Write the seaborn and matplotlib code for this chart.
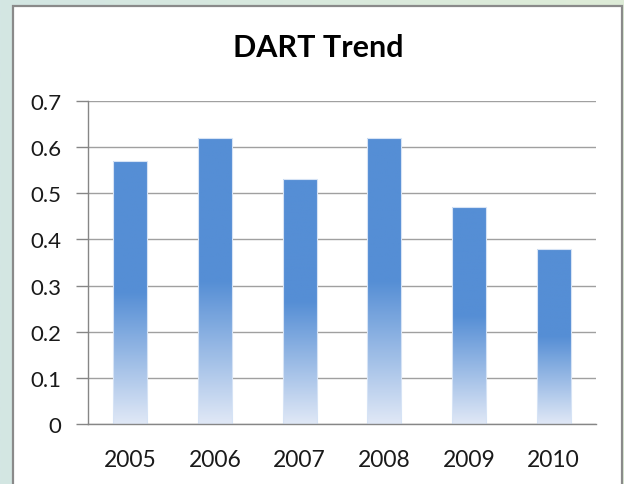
import numpy as np
import matplotlib.pyplot as plt
import seaborn as sns
from matplotlib.patches import Rectangle

# Data
years = ['2005', '2006', '2007', '2008', '2009', '2010']
dart = [0.57, 0.62, 0.53, 0.62, 0.47, 0.38]
y_ticks = [0, 0.1, 0.2, 0.3, 0.4, 0.5, 0.6, 0.7]
y_labels = ['0', '0.1', '0.2', '0.3', '0.4', '0.5', '0.6', '0.7']

BAR_TOP = np.array([85, 142, 213]) / 255
BAR_BOTTOM = np.array([224, 232, 246]) / 255
GRID = '#a0a0a0'
AXIS = '#868686'

sns.set_theme(style='white')
plt.rcParams['font.family'] = ['Lato', 'DejaVu Sans']

fig = plt.figure(figsize=(6.24, 4.85), dpi=100)

# outer slide-like background gradient (teal -> pale green)
bg = fig.add_axes([0, 0, 1, 1], zorder=-3)
left_c = np.array([211, 230, 227]) / 255
right_c = np.array([222, 236, 215]) / 255
t = np.linspace(0, 1, 256)[None, :, None]
bg.imshow(left_c * (1 - t) + right_c * t, aspect='auto', extent=[0, 1, 0, 1])
bg.axis('off')

# white chart panel with grey frame
fig.patches.append(Rectangle((13 / 624, -0.05), (622 - 13) / 624, 1.05 - 7 / 485,
                             transform=fig.transFigure, facecolor='white',
                             edgecolor='#8a8a8a', lw=1.6, zorder=-2))

ax = fig.add_axes([88 / 624, 60 / 485, (596 - 88) / 624, (425 - 102) / 485])
ax.patch.set_alpha(0)

sns.barplot(x=years, y=dart, ax=ax, width=0.4, color=BAR_TOP, saturation=1)

# vertical gradient fill: solid in the upper half, fading toward the base
n = 256
frac = np.linspace(1, 0, n)[:, None, None]  # row 0 = top
mix = np.clip(frac / 0.5, 0, 1)
grad = BAR_BOTTOM * (1 - mix) + BAR_TOP * mix
for bar in ax.patches:
    x0, y0 = bar.get_x(), bar.get_y()
    w, h = bar.get_width(), bar.get_height()
    im = ax.imshow(grad, extent=[x0, x0 + w, y0, y0 + h], aspect='auto', zorder=1.5)
    im.set_clip_path(bar)
    bar.set_facecolor('none')
    bar.set_edgecolor('#d6e3f5')
    bar.set_linewidth(0.8)
    bar.set_zorder(2)

ax.set_xlim(-0.5, 5.5)
ax.set_ylim(0, 0.7)
ax.set_yticks(y_ticks)
ax.set_yticklabels(y_labels)
ax.set_xlabel('')
ax.set_ylabel('')

ax.set_axisbelow(True)
ax.yaxis.grid(True, color=GRID, lw=1.0)
ax.xaxis.grid(False)

for s in ['top', 'right']:
    ax.spines[s].set_visible(False)
for s in ['left', 'bottom']:
    ax.spines[s].set_color(AXIS)
    ax.spines[s].set_linewidth(1.0)

# tick marks between categories, Excel style
ax.set_xticks(np.arange(-0.5, 6, 1), minor=True)
ax.tick_params(axis='x', which='major', length=0, pad=18, labelsize=16.5, labelcolor='#1a1a1a')
ax.tick_params(axis='x', which='minor', length=8, width=1, color=AXIS, direction='out')
ax.tick_params(axis='y', which='major', length=9, width=1, color=AXIS, direction='out',
               pad=10, labelsize=16, labelcolor='#1a1a1a', left=True)

fig.text(318 / 624, 1 - 48 / 485, 'DART Trend', ha='center', va='center',
         fontsize=22, fontweight='bold', color='black')

fig.savefig('out.png', dpi=100)
plt.close(fig)
